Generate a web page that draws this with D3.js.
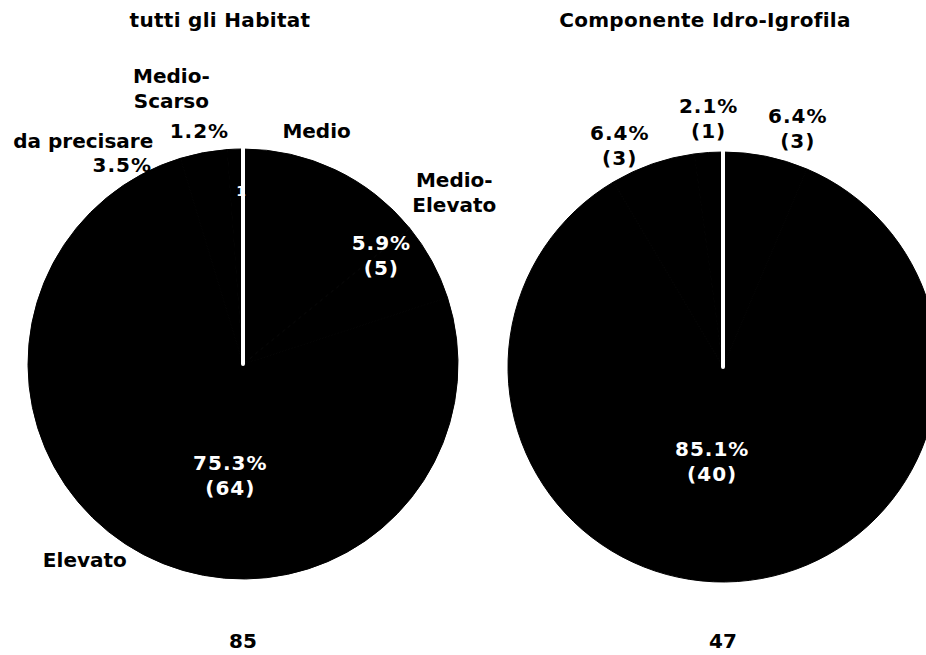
<!DOCTYPE html>
<html lang="it">
<head>
    <meta charset="UTF-8">
    <title>Habitat - grafici a torta</title>
    <script src="https://d3js.org/d3.v7.min.js"></script>
    <style>
        body {
            margin: 0;
            background: #fff;
        }
        svg text {
            font-family: "DejaVu Sans", Verdana, sans-serif;
            font-weight: bold;
            font-size: 20px;
        }
        .val {
            letter-spacing: 1px;
        }
        .title {
            letter-spacing: 0.3px;
        }
        .slice {
            fill: #000;
            stroke: #000;
            stroke-width: 1px;
        }
        .gap {
            stroke: #fff;
            stroke-width: 4px;
            stroke-linecap: round;
        }
    </style>
</head>
<body>
    <script>
        const width = 926, height = 655;

        // data
        const categories = ["Medio", "Medio-Elevato", "Elevato", "da precisare", "Medio-Scarso"];
        const valuesHabitat = [12, 5, 64, 3, 1];
        const valuesIdro = [3, 0, 40, 3, 1];
        const titles = ["tutti gli Habitat", "Componente Idro-Igrofila"];

        const R = 215;
        const lineH = 25;

        // label placement: slice index, kind, radius, nudge, colour, show count
        const layoutHabitat = [
            { i: 0, kind: "cat", r: R + 45, dx: -38, dy: 2 },
            { i: 1, kind: "cat", r: R + 45, dx: -17, dy: -47 },
            { i: 2, kind: "cat", r: R + 45, dx: -38, dy: -35 },
            { i: 3, kind: "cat", r: R + 45, dx: -112, dy: 33 },
            { i: 4, kind: "cat", r: R + 45, dx: -62, dy: -16 },
            { i: 1, kind: "val", r: R * 0.5, dx: 44, dy: -57, fill: "#fff", count: true },
            { i: 2, kind: "val", r: R * 0.5, dx: 37, dy: 16, fill: "#fff", count: true },
            { i: 3, kind: "val", r: R + 45, dx: -73, dy: 57 },
            { i: 4, kind: "val", r: R + 45, dx: -34, dy: 27 }
        ];
        const layoutIdro = [
            { i: 0, kind: "val", r: R + 45, dx: 23, dy: 16, count: true },
            { i: 2, kind: "val", r: R * 0.5, dx: -18, dy: -13, fill: "#fff", count: true },
            { i: 3, kind: "val", r: R + 45, dx: -18, dy: 24, count: true },
            { i: 4, kind: "val", r: R + 45, dx: 3, dy: 11, count: true }
        ];

        const charts = [
            { title: titles[0], values: valuesHabitat, layout: layoutHabitat, cx: 243, cy: 364, titleDx: -23 },
            { title: titles[1], values: valuesIdro, layout: layoutIdro, cx: 723, cy: 367, titleDx: -18 }
        ];

        const svg = d3.select("body").append("svg")
            .attr("width", width)
            .attr("height", height);

        const pie = d3.pie().sort(null).value(d => d);
        const arc = d3.arc().innerRadius(0).outerRadius(R);
        const fmt = d3.format(".1f");

        function polar(a, r) {
            return [r * Math.sin(a), -r * Math.cos(a)];
        }

        function multiline(g, lines, x, y, cls, fill) {
            const t = g.append("text")
                .attr("class", cls)
                .attr("text-anchor", "middle")
                .attr("fill", fill || "#000");
            const y0 = y - (lines.length - 1) * lineH / 2 + 7;
            lines.forEach((s, k) => {
                t.append("tspan")
                    .attr("x", x)
                    .attr("y", y0 + k * lineH)
                    .text(s);
            });
        }

        charts.forEach(c => {
            const total = d3.sum(c.values);
            const arcs = pie(c.values);
            const g = svg.append("g");

            const pg = g.append("g").attr("transform", `translate(${c.cx},${c.cy})`);

            pg.selectAll("path")
                .data(arcs.filter(d => d.value > 0))
                .join("path")
                .attr("class", "slice")
                .attr("d", arc);

            // white separator at the start angle
            const [ex, ey] = polar(arcs[0].startAngle, R);
            pg.append("line")
                .attr("class", "gap")
                .attr("x1", 0).attr("y1", 0)
                .attr("x2", ex).attr("y2", ey - 2);

            // labels
            c.layout.forEach(L => {
                const a = arcs[L.i];
                const mid = (a.startAngle + a.endAngle) / 2;
                const [px, py] = polar(mid, L.r);
                let lines;
                if (L.kind === "cat") {
                    const name = categories[L.i];
                    lines = name.includes("-") ? [name.split("-")[0] + "-", name.split("-")[1]] : [name];
                } else {
                    const v = c.values[L.i];
                    lines = [fmt(v / total * 100) + "%"];
                    if (L.count) lines.push("(" + v + ")");
                }
                multiline(g, lines, c.cx + px + L.dx, c.cy + py + L.dy, L.kind, L.fill);
            });

            // title and total
            g.append("text")
                .attr("class", "title")
                .attr("x", c.cx + c.titleDx)
                .attr("y", 27)
                .attr("text-anchor", "middle")
                .text(c.title);

            g.append("text")
                .attr("x", c.cx)
                .attr("y", 648)
                .attr("text-anchor", "middle")
                .text(total);
        });

        // remnant of a hidden label under the first pie
        svg.append("text")
            .attr("x", 241)
            .attr("y", 196)
            .attr("text-anchor", "middle")
            .attr("fill", "#fff")
            .style("font-size", "14px")
            .text("1");
    </script>
</body>
</html>
